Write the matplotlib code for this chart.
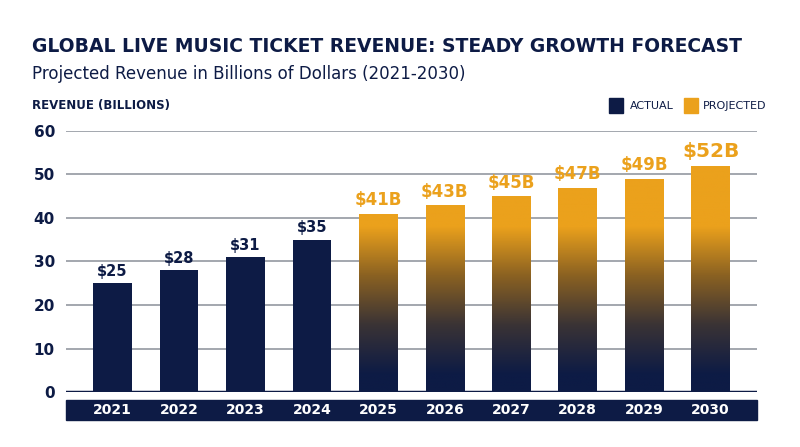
import numpy as np
import matplotlib
matplotlib.use('Agg')
import matplotlib.pyplot as plt
from matplotlib.colors import LinearSegmentedColormap
from matplotlib.patches import Rectangle

years = ['2021', '2022', '2023', '2024', '2025', '2026', '2027', '2028', '2029', '2030']
revenue = [25, 28, 31, 35, 41, 43, 45, 47, 49, 52]
projected = [False, False, False, False, True, True, True, True, True, True]

NAVY = '#0d1b45'
ORANGE = '#eba11c'
plt.rcParams['font.family'] = ['DejaVu Sans']

fig = plt.figure(figsize=(8, 4.47), dpi=100)
ax = fig.add_axes([0.0825, 0.123, 0.864, 0.584])
x = np.arange(len(years))

cmap = LinearSegmentedColormap.from_list('g', [NAVY, '#3a3335', '#8a6122', ORANGE])
grad = np.clip((np.linspace(0, 60, 300) - 4) / 34, 0, 1)[:, None]

for i, (v, p) in enumerate(zip(revenue, projected)):
    if p:
        bar = ax.bar(x[i], v, width=0.58, color='none', zorder=3)[0]
        im = ax.imshow(grad, cmap=cmap, extent=[x[i] - 0.29, x[i] + 0.29, 0, 60],
                       origin='lower', aspect='auto', zorder=3)
        im.set_clip_path(bar)
        fs = 14.5 if v == 52 else 12
        ax.text(x[i], v + 1.0, f'${v}B', ha='center', va='bottom', fontsize=fs,
                fontweight='bold', color=ORANGE, zorder=4)
    else:
        ax.bar(x[i], v, width=0.58, color=NAVY, zorder=3)
        ax.text(x[i], v + 1.0, f'${v}', ha='center', va='bottom', fontsize=10.5,
                fontweight='bold', color=NAVY, zorder=4)
ax.set_xlim(-0.7, len(years) - 0.3)
ax.set_ylim(0, 60)

ax.set_yticks(range(0, 61, 10))
ax.grid(axis='y', color='#8a8f99', linewidth=1.1, zorder=0)
ax.axhline(0, color=NAVY, linewidth=2.5, zorder=5)
for s in ax.spines.values():
    s.set_visible(False)
ax.tick_params(axis='y', length=0, labelsize=11, labelcolor=NAVY, pad=8)
for t in ax.get_yticklabels():
    t.set_fontweight('bold')
ax.set_xticks([])

# year band
fig.patches.append(Rectangle((0.0825, 0.06), 0.864, 0.045, transform=fig.transFigure,
                             color=NAVY, zorder=1))
span = len(years) + 0.4
for i, y in enumerate(years):
    xf = 0.0825 + 0.864 * (x[i] + 0.7) / span
    fig.text(xf, 0.082, y, ha='center', va='center', color='white', fontsize=10,
             fontweight='bold')

fig.text(0.04, 0.875, 'GLOBAL LIVE MUSIC TICKET REVENUE: STEADY GROWTH FORECAST',
         fontsize=13.5, fontweight='bold', color=NAVY, va='bottom')
fig.text(0.04, 0.815, 'Projected Revenue in Billions of Dollars (2021-2030)',
         fontsize=12, color=NAVY, va='bottom')
fig.text(0.04, 0.75, 'REVENUE (BILLIONS)', fontsize=8.5, fontweight='bold',
         color=NAVY, va='bottom')

fig.patches.append(Rectangle((0.761, 0.748), 0.018, 0.032, transform=fig.transFigure, color=NAVY))
fig.text(0.787, 0.752, 'ACTUAL', fontsize=8, color=NAVY, va='bottom')
fig.patches.append(Rectangle((0.855, 0.748), 0.018, 0.032, transform=fig.transFigure, color=ORANGE))
fig.text(0.879, 0.752, 'PROJECTED', fontsize=8, color=NAVY, va='bottom')

fig.savefig('out.png', dpi=100, facecolor='white')
